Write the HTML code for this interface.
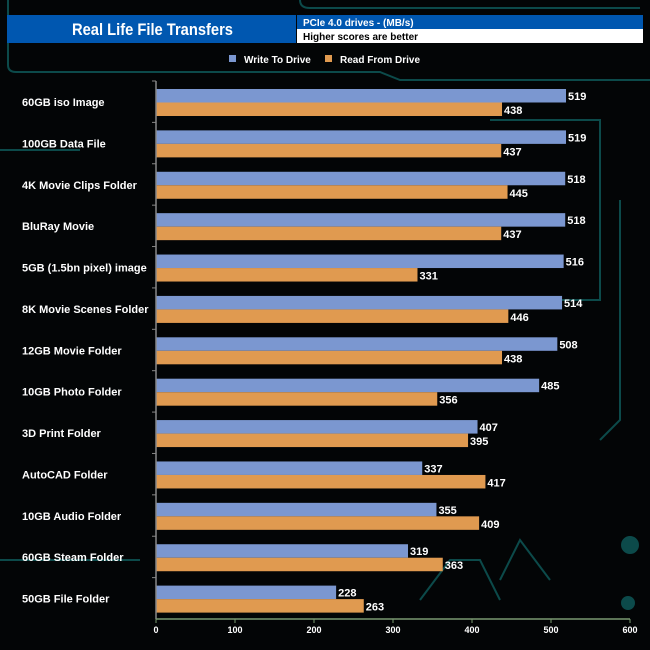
<!DOCTYPE html>
<html><head><meta charset="utf-8"><style>
body{margin:0;background:#000;}
svg{display:block;font-family:"Liberation Sans",Arial,sans-serif;}
</style></head><body>
<svg width="650" height="650" viewBox="0 0 650 650">
<rect width="650" height="650" fill="#030506"/>
<g stroke="#0c4a4a" stroke-width="2" fill="none">
<path d="M8 0 V65 Q8 72 16 72 H380 L400 80 H650"/>
<path d="M300 0 Q300 8 310 8 H640"/>
<path d="M490 120 H600 V300 H560"/>
<path d="M620 200 V420 L600 440"/>
<path d="M0 560 H140"/><path d="M0 150 H80"/>
<path d="M420 600 L450 560 H480 L500 600 M500 580 L520 540 L550 580"/>
<circle cx="630" cy="545" r="8" fill="#0c4a4a"/><circle cx="628" cy="603" r="6" fill="#0c4a4a"/>
</g>
<rect x="7" y="15" width="289" height="28" fill="#0057b0"/>
<text x="72" y="35" fill="#fff" font-size="17" font-weight="bold" textLength="161" lengthAdjust="spacingAndGlyphs">Real Life File Transfers</text>
<rect x="297" y="15" width="346" height="14" fill="#0057b0"/>
<rect x="297" y="29" width="346" height="14" fill="#fff"/>
<text x="303" y="26" fill="#fff" font-size="10" font-weight="bold">PCIe 4.0 drives - (MB/s)</text>
<text x="303" y="40" fill="#000" font-size="10" font-weight="bold">Higher scores are better</text>
<g font-size="10" font-weight="bold" fill="#fff">
<rect x="229" y="55" width="7" height="7" fill="#7b97d0"/>
<text x="244" y="63">Write To  Drive</text>
<rect x="325" y="55" width="7" height="7" fill="#e09a50"/>
<text x="340" y="63">Read From  Drive</text>
</g>
<g id="plot"></g>
</svg>
<script>
const categories=["60GB iso Image","100GB Data File","4K Movie Clips Folder","BluRay Movie","5GB (1.5bn pixel) image","8K Movie Scenes Folder","12GB Movie Folder","10GB Photo Folder","3D Print Folder","AutoCAD Folder","10GB Audio Folder","60GB Steam Folder","50GB File Folder"];
const writeVals=[519,519,518,518,516,514,508,485,407,337,355,319,228];
const readVals=[438,437,445,437,331,446,438,356,395,417,409,363,263];
const tickVals=[0,100,200,300,400,500,600];
const X0=156,X1=630,MAX=600,TOP=81,BOT=619;
const x=v=>X0+v/MAX*(X1-X0);
const band=(BOT-TOP)/categories.length;
const NS="http://www.w3.org/2000/svg";
const g=document.getElementById('plot');
function mk(t,a){const e=document.createElementNS(NS,t);for(const k in a)e.setAttribute(k,a[k]);g.appendChild(e);return e;}
categories.forEach((c,i)=>{
 const y0=TOP+i*band+8;
 const l=mk('text',{x:22,y:y0+17,fill:'#fff','font-size':11,'font-weight':'bold'});l.textContent=c;
 
 
 const bw=mk('rect',{x:X0,y:y0,width:x(writeVals[i])-X0,height:13.5,fill:'#7b97d0'});
 
 
 const br=mk('rect',{x:X0,y:y0+13.5,width:x(readVals[i])-X0,height:13.5,fill:'#e09a50'});
 
 
 const tw=mk('text',{x:x(writeVals[i])+2,y:y0+11,fill:'#fff','font-size':11,'font-weight':'bold'});tw.textContent=writeVals[i];
 
 
 const tr=mk('text',{x:x(readVals[i])+2,y:y0+25,fill:'#fff','font-size':11,'font-weight':'bold'});tr.textContent=readVals[i];
 
 
 const tk=mk('line',{x1:X0-4,x2:X0,y1:TOP+i*band,y2:TOP+i*band,stroke:'#888'});
 
 
});
const ya=mk('line',{x1:X0,x2:X0,y1:TOP,y2:BOT,stroke:'#888','stroke-width':1.5});


const xa=mk('line',{x1:X0,x2:X1,y1:BOT,y2:BOT,stroke:'#7a9a70','stroke-width':1.5});


tickVals.forEach(v=>{
 const t=mk('line',{x1:x(v),x2:x(v),y1:BOT,y2:BOT+4,stroke:'#7a9a70'});
 
 
 const l=mk('text',{x:x(v),y:BOT+14,fill:'#fff','font-size':9,'font-weight':'bold','text-anchor':'middle'});l.textContent=v;
 
 
});
</script>
</body></html>
